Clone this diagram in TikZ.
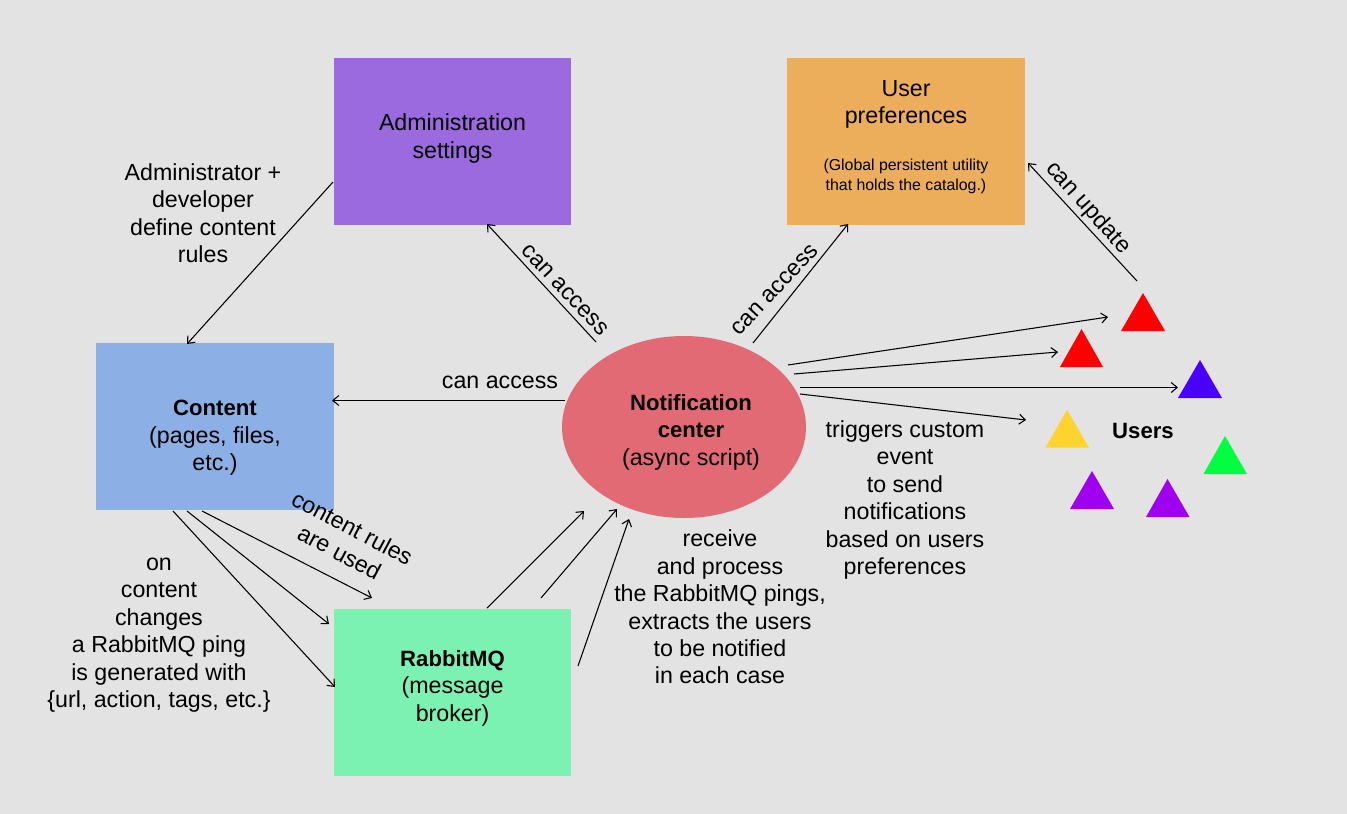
\documentclass[tikz,border=0pt]{standalone}
\usepackage{fontspec}
\setmainfont{Liberation Sans}
\usetikzlibrary{arrows.meta,shapes.geometric}
\definecolor{bg}{HTML}{E3E3E3}
\definecolor{adminc}{HTML}{9A6ADE}
\definecolor{prefc}{HTML}{EDAE5C}
\definecolor{contc}{HTML}{8CB0E6}
\definecolor{rabc}{HTML}{7CF2B2}
\definecolor{notc}{HTML}{E26A74}
\definecolor{tred}{HTML}{FF0000}
\definecolor{tblue}{HTML}{4A00FF}
\definecolor{tyel}{HTML}{FDD32F}
\definecolor{tgreen}{HTML}{00FF40}
\definecolor{tpur}{HTML}{A000F0}
\newcommand{\bigt}{\fontsize{17.4pt}{20.6pt}\selectfont}
\newcommand{\smallt}{\fontsize{11.9pt}{15pt}\selectfont}
\newcommand{\bt}[1]{{\fontsize{16.6pt}{20.6pt}\selectfont\bfseries #1}}
\tikzset{
  x=0.75pt,y=-0.75pt,
  boxn/.style={minimum width=178pt,minimum height=125.5pt,inner sep=0pt,anchor=center},
  lbl/.style={align=center,font=\bigt,inner sep=0pt,anchor=center},
  conn/.style={draw=black,line width=0.8pt,-{Straight Barb[length=4.5pt,width=7.5pt,line width=0.8pt]}},
  tri/.style={fill=#1,draw=none},
}
\begin{document}
\begin{tikzpicture}
\useasboundingbox (0,0) rectangle (1347,814);
\fill[bg] (0,0) rectangle (1347,814);

\node[boxn,fill=adminc] (admin) at (452.5,141.5) {};
\node[lbl] (admint) at (452.5,138.5) {Administration\\settings};
\node[boxn,fill=prefc] (prefs) at (906,141.5) {};
\node[lbl] (preft) at (906,104.5) {User\\preferences};
\node[lbl,font=\smallt] (prefs2) at (906,176.5) {(Global persistent utility\\that holds the catalog.)};
\node[boxn,fill=contc] (content) at (215,426.5) {};
\node[lbl] (contt) at (215,438) {\bt{Content}\\(pages, files,\\etc.)};
\node[boxn,fill=rabc] (rabbit) at (452.5,692.5) {};
\node[lbl] (rabt) at (452.5,688) {\bt{RabbitMQ}\\(message\\broker)};
\node[ellipse,fill=notc,minimum width=183pt,minimum height=136.5pt,inner sep=0pt] (notif) at (684,427) {};
\node[lbl] (notift) at (691,432) {\bt{Notification}\\\bt{center}\\(async script)};

\fill[tri=tred] (1143,293) -- (1165,331) -- (1121,331) -- cycle;
\fill[tri=tred] (1081.5,329) -- (1103,367) -- (1060,367) -- cycle;
\fill[tri=tblue] (1200,360) -- (1222,398) -- (1178,398) -- cycle;
\fill[tri=tyel] (1067,410) -- (1089,447.5) -- (1045.5,447.5) -- cycle;
\fill[tri=tgreen] (1225,436) -- (1247,474) -- (1203.5,474) -- cycle;
\fill[tri=tpur] (1092,471) -- (1114,509) -- (1070,509) -- cycle;
\fill[tri=tpur] (1167.5,479) -- (1189.5,517) -- (1146,517) -- cycle;

\coordinate (a1) at (333,182); \coordinate (a2) at (187,344);
\coordinate (b1) at (596,342); \coordinate (b2) at (487,224);
\coordinate (c1) at (753,343); \coordinate (c2) at (848,224);
\coordinate (d1) at (1137,281); \coordinate (d2) at (1028,163);
\coordinate (e1) at (565,400.5); \coordinate (e2) at (332,400.5);
\coordinate (f1) at (788,365); \coordinate (f2) at (1108,317);
\coordinate (g1) at (794,374); \coordinate (g2) at (1058,352);
\coordinate (h1) at (800,387.5); \coordinate (h2) at (1178,387.5);
\coordinate (i1) at (800,394); \coordinate (i2) at (1026,420);
\coordinate (j1) at (173,511); \coordinate (j2) at (335,687);
\coordinate (k1) at (187,511); \coordinate (k2) at (329,624);
\coordinate (l1) at (202,511); \coordinate (l2) at (372,598);
\coordinate (m1) at (487,608); \coordinate (m2) at (584,511);
\coordinate (n1) at (541,598); \coordinate (n2) at (617,509);
\coordinate (o1) at (578,666); \coordinate (o2) at (629,519);
\foreach \p in {a,b,c,d,e,f,g,h,i,j,k,l,m,n,o} \draw[conn] (\p1) -- (\p2);

\node[lbl] (t1) at (203,213) {Administrator +\\developer\\define content\\rules};
\node[lbl,rotate=-47] (t2) at (565,290) {can access};
\node[lbl,rotate=47] (t3) at (775,290) {can access};
\node[lbl,rotate=-48] (t4) at (1088,208) {can update};
\node[lbl] (t5) at (500,382) {can access};
\node[lbl,rotate=-28] (t6) at (346,540) {content rules\\are used};
\node[lbl] (t7) at (159,635) {on\\content\\changes\\a RabbitMQ ping\\is generated with\\\{url, action, tags, etc.\}};
\node[lbl] (t8) at (720,607) {receive\\and process\\the RabbitMQ pings,\\extracts the users\\to be notified\\in each case};
\node[lbl] (t9) at (905,500) {triggers custom\\event\\to send\\notifications\\based on users\\preferences};
\node[lbl] (users) at (1143,431) {\bt{Users}};
\end{tikzpicture}
\end{document}
